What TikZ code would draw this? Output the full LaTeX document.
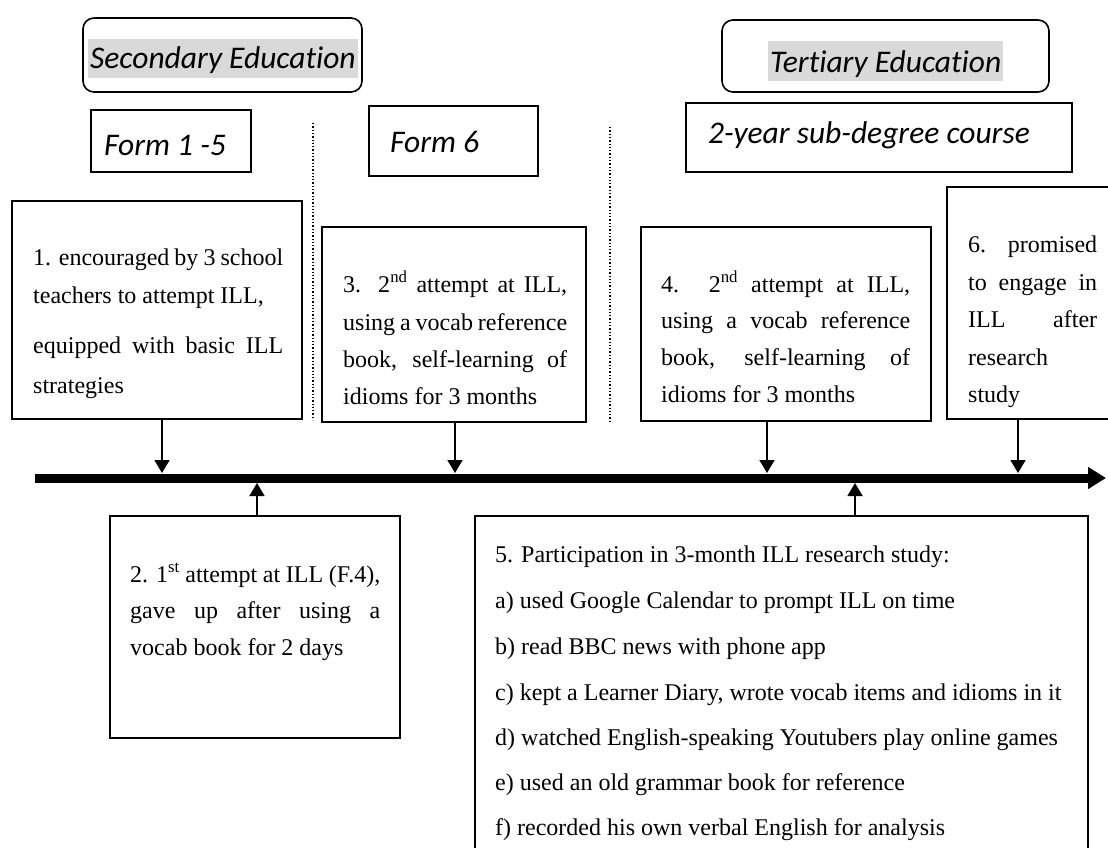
\documentclass[tikz,border=0pt]{standalone}
\usepackage{fontspec}
\setmainfont{Liberation Serif}
\newfontfamily\calfont[Ligatures=NoCommon,RawFeature={-liga;-clig;-dlig}]{Carlito}
\usetikzlibrary{arrows.meta}
\definecolor{hlgray}{HTML}{D9D9D9}
\tikzset{
  box/.style={draw, line width=1.6pt, rectangle, inner sep=0},
  rbox/.style={draw, line width=1.6pt, rounded corners=11pt, inner sep=0},
  hl/.style={fill=hlgray, inner sep=0},
  body/.style={anchor=base west, inner sep=0, font=\fontsize{24}{28}\selectfont},
  head/.style={anchor=base west, inner sep=0, font=\fontsize{31.5}{36}\selectfont\calfont\itshape},
  conn/.style={line width=1.6pt, -{Triangle[width=15pt,length=13pt]}},
  sepline/.style={line width=1.3pt, dotted},
  timeline/.style={line width=9pt, -{Triangle[width=21pt,length=18pt]}},
}
\begin{document}
\begin{tikzpicture}[x=1pt,y=-1pt]
\clip (0,0) rectangle (1108,847);
\fill[white] (0,0) rectangle (1108,847);

% header boxes
\node[rbox, minimum width=279pt, minimum height=74pt] (sec) at (222.5,55) {};
\node[hl, minimum width=270pt, minimum height=39pt] (sechl) at (223,58.5) {};
\node[head] (sect) at (90,68) {Secondary Education};

\node[rbox, minimum width=327pt, minimum height=72pt] (ter) at (885.5,56) {};
\node[hl, minimum width=235pt, minimum height=40pt] (terhl) at (885.5,61) {};
\node[head] (tert) at (770,72) {Tertiary Education};

\node[box, minimum width=160pt, minimum height=62pt] (f15) at (171,141) {};
\node[head] (f15t) at (104,155) {Form 1 -5};

\node[box, minimum width=169pt, minimum height=70pt] (f6) at (453.5,141) {};
\node[head] (f6t) at (390,152) {Form 6};

\node[box, minimum width=386pt, minimum height=69pt] (sub) at (879,137.5) {};
\node[head] (subt) at (708,143) {2-year sub-degree course};

% dotted separators
\coordinate (d1a) at (313,123); \coordinate (d1b) at (313,420);
\coordinate (d2a) at (610,127); \coordinate (d2b) at (610,423);
\draw[sepline] (d1a) -- (d1b);
\draw[sepline] (d2a) -- (d2b);

% event boxes
\node[box, minimum width=290pt, minimum height=218pt] (b1) at (157,310) {};
\node[body] (t1a) at (33,265) {\makebox[250pt][s]{1. encouraged by 3 school}};
\node[body] (t1b) at (33,303) {teachers to attempt ILL,};
\node[body] (t1c) at (33,353) {\makebox[250pt][s]{equipped with basic ILL}};
\node[body] (t1d) at (33,393) {strategies};

\node[box, minimum width=264pt, minimum height=195pt] (b3) at (454,324.5) {};
\node[body] (t3a) at (343,292) {\makebox[224pt][s]{3. 2\textsuperscript{nd} attempt at ILL,}};
\node[body] (t3b) at (343,330) {\makebox[224pt][s]{using a vocab reference}};
\node[body] (t3c) at (343,367) {\makebox[224pt][s]{book, self-learning of}};
\node[body] (t3d) at (343,404) {idioms for 3 months};

\node[box, minimum width=290pt, minimum height=194pt] (b4) at (786,324) {};
\node[body] (t4a) at (661,292) {\makebox[249pt][s]{4. 2\textsuperscript{nd} attempt at ILL,}};
\node[body] (t4b) at (661,328) {\makebox[249pt][s]{using a vocab reference}};
\node[body] (t4c) at (661,365) {\makebox[249pt][s]{book, self-learning of}};
\node[body] (t4d) at (661,402) {idioms for 3 months};

\node[box, minimum width=183pt, minimum height=232pt] (b6) at (1038.5,303) {};
\node[body] (t6a) at (968,252) {\makebox[129pt][s]{6. promised}};
\node[body] (t6b) at (968,290) {\makebox[129pt][s]{to engage in}};
\node[body] (t6c) at (968,327) {\makebox[129pt][s]{ILL after}};
\node[body] (t6d) at (968,365) {research};
\node[body] (t6e) at (968,402) {study};

\node[box, minimum width=290pt, minimum height=222pt] (b2) at (255,627) {};
\node[body] (t2a) at (130,582) {\makebox[250pt][s]{2. 1\textsuperscript{st} attempt at ILL (F.4),}};
\node[body] (t2b) at (130,618) {\makebox[250pt][s]{gave up after using a}};
\node[body] (t2c) at (130,655) {vocab book for 2 days};

\node[box, minimum width=613pt, minimum height=354pt] (b5) at (781.5,693) {};
\node[body] (t5a) at (495,562) {5. Participation in 3-month ILL research study:};
\node[body] (t5b) at (495,608) {a) used Google Calendar to prompt ILL on time};
\node[body] (t5c) at (495,654) {b) read BBC news with phone app};
\node[body] (t5d) at (495,700) {c) kept a Learner Diary, wrote vocab items and idioms in it};
\node[body] (t5e) at (495,745) {d) watched English-speaking Youtubers play online games};
\node[body] (t5f) at (495,790) {e) used an old grammar book for reference};
\node[body] (t5g) at (495,835) {f) recorded his own verbal English for analysis};

% timeline
\coordinate (tl0) at (35,478);
\coordinate (tl1) at (1106,478);
\draw[timeline] (tl0) -- (tl1);

% connectors
\coordinate (a1) at (162,473);
\coordinate (a3) at (455,473);
\coordinate (a4) at (767,473);
\coordinate (a6) at (1018,473);
\coordinate (a2) at (257,483);
\coordinate (a5) at (855,483);
\draw[conn] (b1.south -| a1) -- (a1);
\draw[conn] (b3.south -| a3) -- (a3);
\draw[conn] (b4.south -| a4) -- (a4);
\draw[conn] (b6.south -| a6) -- (a6);
\draw[conn] (b2.north -| a2) -- (a2);
\draw[conn] (b5.north -| a5) -- (a5);
\end{tikzpicture}
\end{document}
